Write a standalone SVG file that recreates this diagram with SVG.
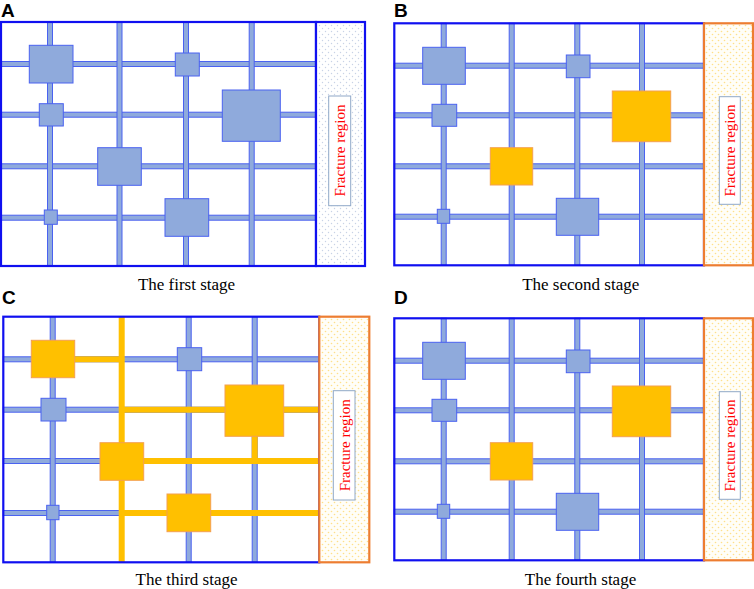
<svg xmlns="http://www.w3.org/2000/svg" width="754" height="589" viewBox="0 0 754 589">
<style>
.ln{fill:#8FAADC;stroke:#4A62F0;stroke-width:1}
.ol{fill:#FFC000;stroke:none}
.bs{fill:#8FAADC;stroke:#4A62F0;stroke-width:1}
.os{fill:#FFC000;stroke:#F4A050;stroke-width:1}
.frame{fill:none;stroke:#1010F0;stroke-width:2.2}
.frb{fill:url(#dotB);stroke:#1010F0;stroke-width:2.2}
.fro{fill:url(#dotO);stroke:#ED7D31;stroke-width:2.2}
.lbox{fill:#FFFFFF;stroke:#8FA8C8;stroke-width:1}
.ft{font-family:"Liberation Serif","Times New Roman",serif;font-size:15px;fill:#FF0000;text-anchor:middle}
.cap{font-family:"Liberation Serif","Times New Roman",serif;font-size:17px;fill:#000;text-anchor:middle}
.pl{font-family:"Liberation Sans",Arial,sans-serif;font-size:19px;font-weight:bold;fill:#000}
</style>
<defs>
<pattern id="dotB" width="6" height="6" patternUnits="userSpaceOnUse">
<rect width="6" height="6" fill="#FFFFFF"/>
<circle cx="1.5" cy="1.5" r="0.7" fill="#C8D2E6"/>
<circle cx="4.5" cy="4.5" r="0.7" fill="#C8D2E6"/>
</pattern>
<pattern id="dotO" width="6" height="6" patternUnits="userSpaceOnUse">
<rect width="6" height="6" fill="#FFFEF8"/>
<circle cx="1.5" cy="1.5" r="0.8" fill="#FFE08A"/>
<circle cx="4.5" cy="4.5" r="0.8" fill="#FFE08A"/>
</pattern>
<g id="panelB">
<g id="B-connectors">
<rect class="ln" x="394.3" y="63.2" width="309.7" height="5"/>
<rect class="ln" x="394.3" y="112.8" width="309.7" height="5"/>
<rect class="ln" x="394.3" y="163.8" width="309.7" height="5"/>
<rect class="ln" x="394.3" y="214.2" width="309.7" height="5"/>
<rect class="ln" x="441.2" y="23.3" width="5" height="242"/>
<rect class="ln" x="509.2" y="23.3" width="5" height="242"/>
<rect class="ln" x="574.8" y="23.3" width="5" height="242"/>
<rect class="ln" x="639.5" y="23.3" width="5" height="242"/>
</g>
<rect class="frame" x="394.3" y="23.3" width="309.7" height="242"/>
<rect class="fro" x="704" y="23.3" width="49" height="242"/>
<g id="B-s1"><rect class="bs" x="422.7" y="47.3" width="42.6" height="37"/></g>
<g id="B-s2"><rect class="bs" x="566.3" y="55" width="23.7" height="22.7"/></g>
<g id="B-s3"><rect class="bs" x="432" y="104.3" width="24.7" height="22"/></g>
<g id="B-s4"><rect class="os" x="612.3" y="91" width="58.4" height="50.7"/></g>
<g id="B-s5"><rect class="os" x="490.3" y="147.7" width="42.4" height="37.3"/></g>
<g id="B-s6"><rect class="bs" x="437.3" y="209.3" width="12.4" height="14"/></g>
<g id="B-s7"><rect class="bs" x="556.3" y="198.3" width="42.4" height="37"/></g>
<g id="B-fr">
<rect class="lbox" x="719.3" y="96.7" width="21" height="107.6"/>
<text class="ft" transform="translate(735,150.5) rotate(-90)">Fracture region</text>
</g>
</g>
</defs>
<rect width="754" height="589" fill="#FFFFFF"/>

<!-- Panel A -->
<g id="panelA">
<text class="pl" x="1" y="17">A</text>
<g id="A-connectors">
<rect class="ln" x="1" y="61.5" width="315" height="5"/>
<rect class="ln" x="1" y="112.2" width="315" height="5"/>
<rect class="ln" x="1" y="163.8" width="315" height="5"/>
<rect class="ln" x="1" y="215.2" width="315" height="5"/>
<rect class="ln" x="47.5" y="22" width="5" height="244"/>
<rect class="ln" x="117" y="22" width="5" height="244"/>
<rect class="ln" x="183.5" y="22" width="5" height="244"/>
<rect class="ln" x="249.2" y="22" width="5" height="244"/>
</g>
<rect class="frame" x="1" y="22" width="315" height="244"/>
<rect class="frb" x="316" y="22" width="49" height="244"/>
<g id="A-s1"><rect class="bs" x="29.3" y="45.3" width="43.7" height="37.7"/></g>
<g id="A-s2"><rect class="bs" x="175.3" y="53" width="24" height="23"/></g>
<g id="A-s3"><rect class="bs" x="39.3" y="103.7" width="24" height="22.3"/></g>
<g id="A-s4"><rect class="bs" x="222.3" y="90" width="58" height="51.3"/></g>
<g id="A-s5"><rect class="bs" x="97.7" y="147.7" width="43.6" height="37.6"/></g>
<g id="A-s6"><rect class="bs" x="44.3" y="210" width="13" height="14.3"/></g>
<g id="A-s7"><rect class="bs" x="165" y="198.7" width="43.7" height="37.6"/></g>
<g id="A-fr">
<rect class="lbox" x="328.7" y="96" width="22" height="109.7"/>
<text class="ft" transform="translate(345,150.5) rotate(-90)">Fracture region</text>
</g>
<text class="cap" x="186.5" y="289.5">The first stage</text>
</g>

<!-- Panel B -->
<g id="panelB-use">
<text class="pl" x="394" y="17">B</text>
<use href="#panelB"/>
<text class="cap" x="580.7" y="290">The second stage</text>
</g>

<!-- Panel C -->
<g id="panelC">
<text class="pl" x="2" y="304">C</text>
<g id="C-connectors">
<rect class="ln" x="3.3" y="356.8" width="316" height="5"/>
<rect class="ln" x="3.3" y="407.2" width="316" height="5"/>
<rect class="ln" x="3.3" y="458.5" width="316" height="5"/>
<rect class="ln" x="3.3" y="510.5" width="316" height="5"/>
<rect class="ln" x="50.2" y="316.7" width="5" height="245.6"/>
<rect class="ln" x="186.2" y="316.7" width="5" height="245.6"/>
<rect class="ln" x="252.2" y="316.7" width="5" height="245.6"/>
<rect class="ol" x="118.7" y="316.7" width="6" height="245.6"/>
<rect class="ol" x="74" y="356.3" width="47" height="6"/>
<rect class="ol" x="121" y="406.7" width="198.3" height="6"/>
<rect class="ol" x="143" y="458" width="176.3" height="6"/>
<rect class="ol" x="121" y="510" width="198.3" height="6"/>
<rect class="ol" x="251.7" y="436" width="6" height="25"/>
</g>
<rect class="frame" x="3.3" y="316.7" width="316" height="245.6"/>
<rect class="fro" x="319.3" y="316.7" width="50" height="245.6"/>
<g id="C-s1"><rect class="os" x="31.3" y="340.3" width="43.4" height="37.4"/></g>
<g id="C-s2"><rect class="bs" x="177.3" y="347.7" width="24.4" height="23"/></g>
<g id="C-s3"><rect class="bs" x="41" y="398.3" width="25" height="22.7"/></g>
<g id="C-s4"><rect class="os" x="225" y="385" width="58.7" height="51.3"/></g>
<g id="C-s5"><rect class="os" x="100" y="442.7" width="43.7" height="37.6"/></g>
<g id="C-s6"><rect class="bs" x="46.7" y="505.3" width="12.3" height="14.4"/></g>
<g id="C-s7"><rect class="os" x="167" y="494" width="43.7" height="37.7"/></g>
<g id="C-fr">
<rect class="lbox" x="333.3" y="390.7" width="21.7" height="109.3"/>
<text class="ft" transform="translate(349.5,445.3) rotate(-90)">Fracture region</text>
</g>
<text class="cap" x="186.5" y="584.5">The third stage</text>
</g>

<!-- Panel D -->
<g id="panelD">
<text class="pl" x="394" y="304">D</text>
<use href="#panelB" transform="translate(0,295)"/>
<text class="cap" x="580.5" y="584.5">The fourth stage</text>
</g>
</svg>
